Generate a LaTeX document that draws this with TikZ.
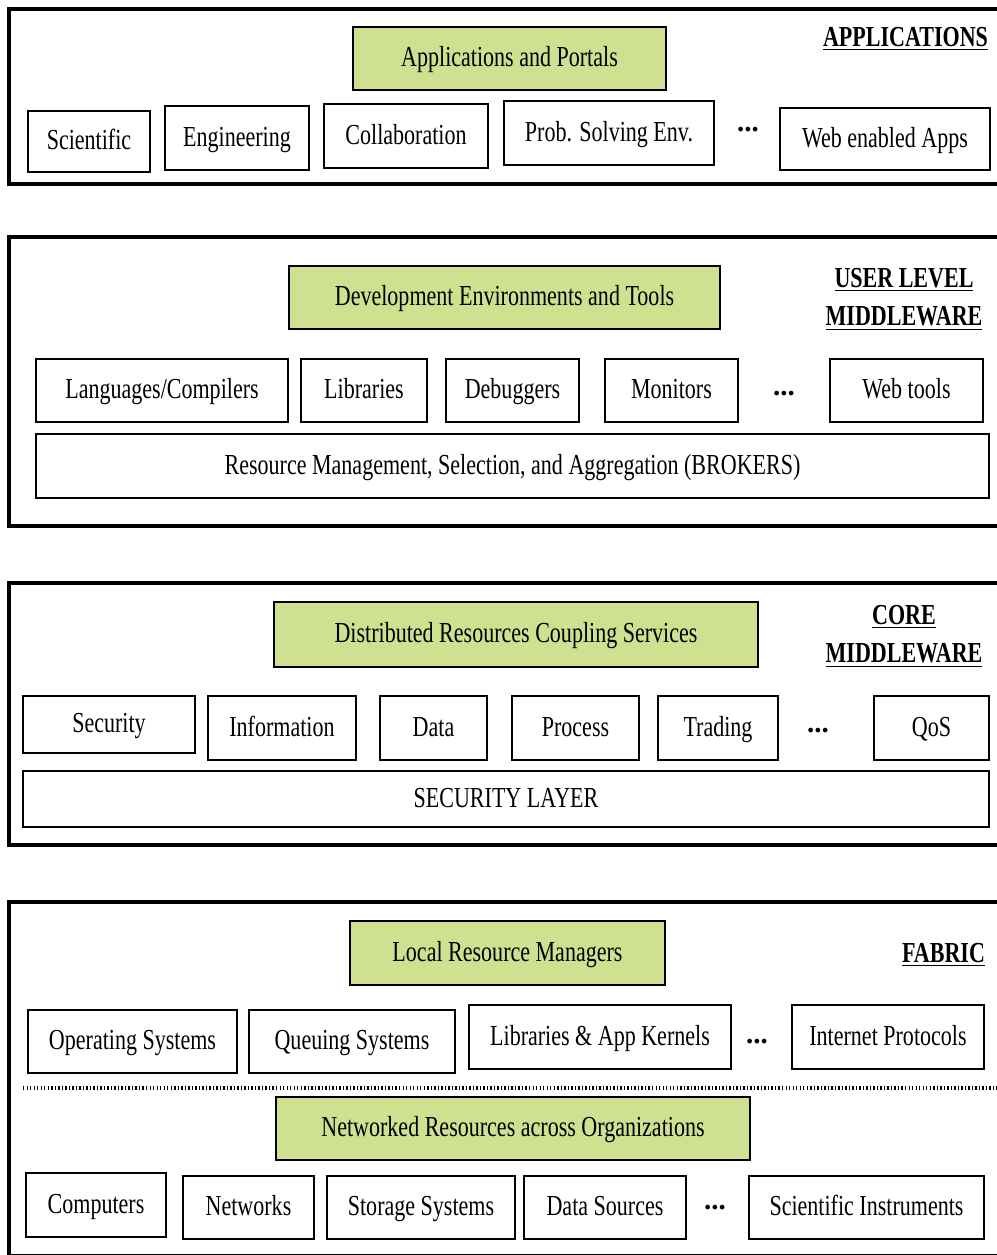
\documentclass[tikz,border=0pt]{standalone}
\usepackage{graphicx}
\usepackage{fontspec}
\setmainfont{Liberation Serif}
\usetikzlibrary{positioning}
\definecolor{leaf}{RGB}{207,224,145}
\newcommand{\nr}[1]{\scalebox{0.76}[1]{#1}}

\begin{document}
\begin{tikzpicture}
    [x=0.02cm,y=-0.02cm,font=\fontsize{16.5}{22}\selectfont,
     layer/.style={draw,line width=2.2pt},
     box/.style={draw,line width=1.1pt,inner sep=0pt,text height=1em,text depth=0.06em},
     head/.style={box,fill=leaf},
     sz/.style 2 args={minimum width=#1*0.02cm,minimum height=#2*0.02cm},
     tag/.style={inner sep=0pt,align=center,font=\fontsize{16.5}{22}\selectfont\bfseries},
     more/.style={inner sep=0pt,font=\fontsize{16.5}{22}\selectfont\bfseries},
     sep/.style={line width=2.4pt,dash pattern=on 0.8pt off 1.2pt}]
    \useasboundingbox (0,0) rectangle (997,1255);
    % layer frames
    \draw[layer] (9,9) rectangle (1010,184);
    \draw[layer] (9,237) rectangle (1010,526);
    \draw[layer] (9,583) rectangle (1010,845);
    \draw[layer] (9,902) rectangle (1010,1256);
    % applications
    \node[head,sz={313}{63}] (app) at (509.5,58.5) {\nr{Applications and Portals}};
    \node[tag] (tapp) at (905.5,39) {\nr{\underline{APPLICATIONS}}};
    \node[box,sz={122}{61}] (sci) at (89,141.5) {\nr{Scientific}};
    \node[box,sz={144}{64}] (eng) at (237,138) {\nr{Engineering}};
    \node[box,sz={164}{64}] (col) at (406,136) {\nr{Collaboration}};
    \node[box,sz={210}{64}] (pse) at (609,133) {\nr{Prob. Solving Env.}};
    \node[more] (m1) at (748,130) {...};
    \node[box,sz={210}{62}] (web) at (885,139) {\nr{Web enabled Apps}};
    % user level middleware
    \node[head,sz={431}{63}] (dev) at (504.5,297.5) {\nr{Development Environments and Tools}};
    \node[tag] (tuml) at (904,299) {\nr{\underline{USER LEVEL}}\\\nr{\underline{MIDDLEWARE}}};
    \node[box,sz={252}{63}] (lang) at (162,390.5) {\nr{Languages/Compilers}};
    \node[box,sz={126}{63}] (lib) at (364,390.5) {\nr{Libraries}};
    \node[box,sz={133}{63}] (dbg) at (512.5,390.5) {\nr{Debuggers}};
    \node[box,sz={133}{63}] (mon) at (671.5,390.5) {\nr{Monitors}};
    \node[more] (m2) at (784,394) {...};
    \node[box,sz={153}{63}] (wtl) at (906.5,390.5) {\nr{Web tools}};
    \node[box,sz={953}{64}] (brk) at (512.5,466) {\nr{Resource Management, Selection, and Aggregation (BROKERS)}};
    % core middleware
    \node[head,sz={484}{65}] (drc) at (516,634.5) {\nr{Distributed Resources Coupling Services}};
    \node[tag] (tcmw) at (904,636) {\nr{\underline{CORE}}\\\nr{\underline{MIDDLEWARE}}};
    \node[box,sz={172}{57}] (sec) at (109,724.5) {\nr{Security}};
    \node[box,sz={148}{64}] (inf) at (282,728) {\nr{Information}};
    \node[box,sz={107}{64}] (dat) at (433.5,728) {\nr{Data}};
    \node[box,sz={127}{64}] (prc) at (575.5,728) {\nr{Process}};
    \node[box,sz={120}{64}] (trd) at (718,728) {\nr{Trading}};
    \node[more] (m3) at (818,731) {...};
    \node[box,sz={115}{64}] (qos) at (931.5,728) {\nr{QoS}};
    \node[box,sz={966}{56}] (slr) at (506,799) {\nr{SECURITY LAYER}};
    % fabric
    \node[head,sz={315}{64}] (lrm) at (507.5,953) {\nr{Local Resource Managers}};
    \node[tag] (tfab) at (943.5,954.5) {\nr{\underline{FABRIC}}};
    \node[box,sz={209}{63}] (ops) at (132.5,1041.5) {\nr{Operating Systems}};
    \node[box,sz={206}{63}] (que) at (352,1041.5) {\nr{Queuing Systems}};
    \node[box,sz={262}{64}] (lak) at (600,1037) {\nr{Libraries \& App Kernels}};
    \node[more] (m4) at (757,1042) {...};
    \node[box,sz={192}{64}] (ipr) at (888,1037) {\nr{Internet Protocols}};
    \draw[sep] (23,1088) -- (1000,1088);
    \node[head,sz={474}{63}] (nro) at (513,1128.5) {\nr{Networked Resources across Organizations}};
    \node[box,sz={140}{64}] (cmp) at (96,1205) {\nr{Computers}};
    \node[box,sz={131}{63}] (net) at (248.5,1207.5) {\nr{Networks}};
    \node[box,sz={188}{63}] (sto) at (421,1207.5) {\nr{Storage Systems}};
    \node[box,sz={162}{63}] (dsr) at (605,1207.5) {\nr{Data Sources}};
    \node[more] (m5) at (715,1208) {...};
    \node[box,sz={235}{63}] (sin) at (866.5,1207.5) {\nr{Scientific Instruments}};
\end{tikzpicture}
\end{document}
